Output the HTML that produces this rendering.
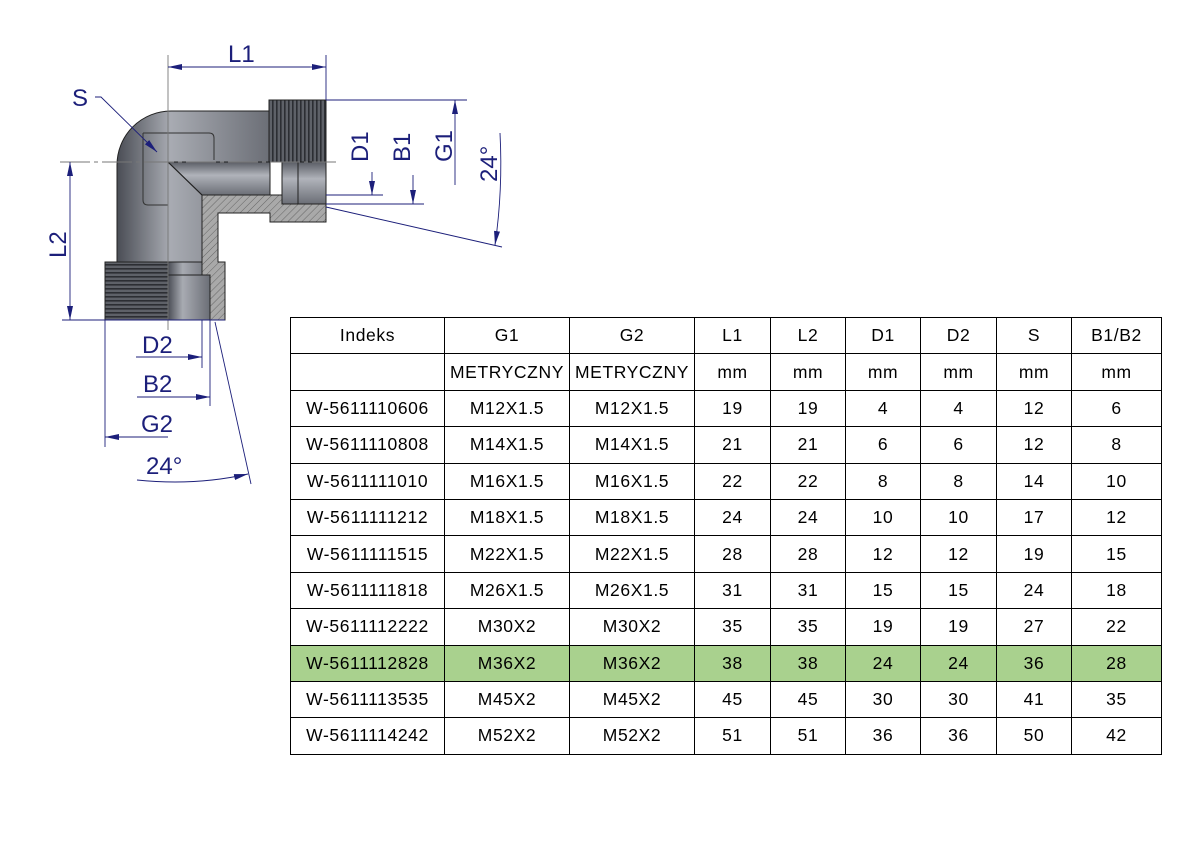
<!DOCTYPE html>
<html><head><meta charset="utf-8"><style>
body{margin:0;width:1191px;height:842px;background:#fff;position:relative;overflow:hidden;font-family:"Liberation Sans",Arial,sans-serif}
svg{position:absolute;left:0;top:0}
table{position:absolute;left:290px;top:317px;border-collapse:collapse;font-size:17.5px;letter-spacing:0.6px;color:#000}
td{border:1.3px solid #000;height:35.4px;padding:0;text-align:center;vertical-align:middle;white-space:nowrap}
tr.g td{background:#a9d18e}
</style></head><body>
<svg width="1191" height="842" viewBox="0 0 1191 842">
<defs>
<linearGradient id="gv" x1="0" y1="0" x2="1" y2="0"><stop offset="0" stop-color="#4a4d55"/><stop offset=".35" stop-color="#a8abb2"/><stop offset="1" stop-color="#6b6e76"/></linearGradient>
<linearGradient id="gh" x1="0" y1="0" x2="0" y2="1"><stop offset="0" stop-color="#5a5d65"/><stop offset=".4" stop-color="#b0b3ba"/><stop offset="1" stop-color="#6b6e76"/></linearGradient>
<pattern id="hat" width="5" height="5" patternUnits="userSpaceOnUse" patternTransform="rotate(45)"><rect width="5" height="5" fill="#a9a9a9"/><line x1="0" y1="0" x2="0" y2="5" stroke="#555" stroke-width="0.8"/></pattern>
<pattern id="thr" width="4" height="6" patternUnits="userSpaceOnUse"><rect width="4" height="6" fill="#5e6168"/><rect width="1.6" height="6" fill="#2c2e33"/></pattern>
<pattern id="thr2" width="6" height="4" patternUnits="userSpaceOnUse"><rect width="6" height="4" fill="#5e6168"/><rect width="6" height="1.6" fill="#2c2e33"/></pattern>
<marker id="a" markerWidth="14" markerHeight="6" refX="14" refY="3" orient="auto" markerUnits="userSpaceOnUse"><path d="M0,0 L14,3 L0,6 Z" fill="#1c1f7a"/></marker>
</defs>
<g stroke="#222" stroke-width="1">
<path d="M117,262 V165 A54,54 0 0 1 171,111 H270 V195 H202 V262 Z" fill="url(#gv)"/>
<path d="M168,162 H270 V195 H202 Z" fill="url(#gh)"/>
<rect x="282" y="162" width="44" height="42" fill="url(#gh)"/>
<rect x="269" y="100" width="57" height="62" fill="url(#thr)"/>
<rect x="105" y="262" width="63" height="58" fill="url(#thr2)"/>
<rect x="168" y="262" width="42" height="58" fill="url(#gv)"/>
<path d="M202,195 L282,195 L282,204 L326,204 L326,222 L270,222 L270,213 L218,213 L218,262 L225,262 L225,320 L210,320 L210,275 L202,275 Z" fill="url(#hat)"/>
<path d="M143,133 H209 Q214,133 214,138 V160 M143,133 V200 Q143,205 148,205 H168" fill="none" stroke="#333"/>
<line x1="168" y1="162" x2="202" y2="195"/>
<line x1="168" y1="275" x2="210" y2="275"/>
<line x1="282" y1="162" x2="282" y2="204"/><line x1="298" y1="162" x2="298" y2="204"/>
</g>
<g stroke="#1c1f7a" stroke-width="0.9" fill="none">
<line x1="60" y1="162" x2="336" y2="162" stroke="#777" stroke-dasharray="30,4,4,4"/>
<line x1="168" y1="55" x2="168" y2="330" stroke="#777"/>
<line x1="326" y1="55" x2="326" y2="100"/>
<line x1="185" y1="67" x2="168" y2="67" marker-end="url(#a)"/><line x1="310" y1="67" x2="326" y2="67" marker-end="url(#a)"/><line x1="185" y1="67" x2="310" y2="67"/>
<line x1="326" y1="100" x2="467" y2="100"/>
<line x1="326" y1="195" x2="383" y2="195"/><line x1="326" y1="204" x2="424" y2="204"/>
<line x1="372" y1="172" x2="372" y2="195" marker-end="url(#a)"/>
<line x1="413" y1="175" x2="413" y2="204" marker-end="url(#a)"/>
<line x1="455" y1="185" x2="455" y2="100" marker-end="url(#a)"/>
<line x1="326" y1="207" x2="502" y2="247"/>
<path d="M500,133 Q503,190 495,245" marker-end="url(#a)"/>
<line x1="62" y1="320" x2="225" y2="320"/>
<line x1="70" y1="240" x2="70" y2="162" marker-end="url(#a)"/><line x1="70" y1="240" x2="70" y2="320" marker-end="url(#a)"/>
<path d="M95,97 L101,97 L157,152" marker-end="url(#a)"/>
<line x1="202" y1="320" x2="202" y2="368"/><line x1="210" y1="320" x2="210" y2="406"/><line x1="105" y1="320" x2="105" y2="447"/>
<line x1="136" y1="357" x2="202" y2="357" marker-end="url(#a)"/>
<line x1="137" y1="397" x2="210" y2="397" marker-end="url(#a)"/>
<line x1="168" y1="437" x2="105" y2="437" marker-end="url(#a)"/>
<line x1="215" y1="322" x2="251" y2="484"/>
<path d="M137,480 Q195,486 248,474" marker-end="url(#a)"/>
</g>
<g fill="#1c1f7a" font-family="Liberation Sans,sans-serif" font-size="24">
<text x="228" y="62">L1</text>
<text x="72" y="106">S</text>
<text x="142" y="353">D2</text>
<text x="143" y="392">B2</text>
<text x="141" y="432">G2</text>
<text x="146" y="474">24°</text>
<text transform="translate(66,258) rotate(-90)">L2</text>
<text transform="translate(368,162) rotate(-90)">D1</text>
<text transform="translate(410,162) rotate(-90)">B1</text>
<text transform="translate(452,162) rotate(-90)">G1</text>
<text transform="translate(497,182) rotate(-90)">24°</text>
</g>
</svg>
<table>
<colgroup><col style="width:154px"><col style="width:125px"><col style="width:125px"><col style="width:76px"><col style="width:75px"><col style="width:75px"><col style="width:76px"><col style="width:75px"><col style="width:90px"></colgroup>
<tr><td>Indeks</td><td>G1</td><td>G2</td><td>L1</td><td>L2</td><td>D1</td><td>D2</td><td>S</td><td>B1/B2</td></tr>
<tr><td></td><td>METRYCZNY</td><td>METRYCZNY</td><td>mm</td><td>mm</td><td>mm</td><td>mm</td><td>mm</td><td>mm</td></tr>
<tr><td>W-5611110606</td><td>M12X1.5</td><td>M12X1.5</td><td>19</td><td>19</td><td>4</td><td>4</td><td>12</td><td>6</td></tr>
<tr><td>W-5611110808</td><td>M14X1.5</td><td>M14X1.5</td><td>21</td><td>21</td><td>6</td><td>6</td><td>12</td><td>8</td></tr>
<tr><td>W-5611111010</td><td>M16X1.5</td><td>M16X1.5</td><td>22</td><td>22</td><td>8</td><td>8</td><td>14</td><td>10</td></tr>
<tr><td>W-5611111212</td><td>M18X1.5</td><td>M18X1.5</td><td>24</td><td>24</td><td>10</td><td>10</td><td>17</td><td>12</td></tr>
<tr><td>W-5611111515</td><td>M22X1.5</td><td>M22X1.5</td><td>28</td><td>28</td><td>12</td><td>12</td><td>19</td><td>15</td></tr>
<tr><td>W-5611111818</td><td>M26X1.5</td><td>M26X1.5</td><td>31</td><td>31</td><td>15</td><td>15</td><td>24</td><td>18</td></tr>
<tr><td>W-5611112222</td><td>M30X2</td><td>M30X2</td><td>35</td><td>35</td><td>19</td><td>19</td><td>27</td><td>22</td></tr>
<tr class="g"><td>W-5611112828</td><td>M36X2</td><td>M36X2</td><td>38</td><td>38</td><td>24</td><td>24</td><td>36</td><td>28</td></tr>
<tr><td>W-5611113535</td><td>M45X2</td><td>M45X2</td><td>45</td><td>45</td><td>30</td><td>30</td><td>41</td><td>35</td></tr>
<tr><td>W-5611114242</td><td>M52X2</td><td>M52X2</td><td>51</td><td>51</td><td>36</td><td>36</td><td>50</td><td>42</td></tr>
</table>
</body></html>
